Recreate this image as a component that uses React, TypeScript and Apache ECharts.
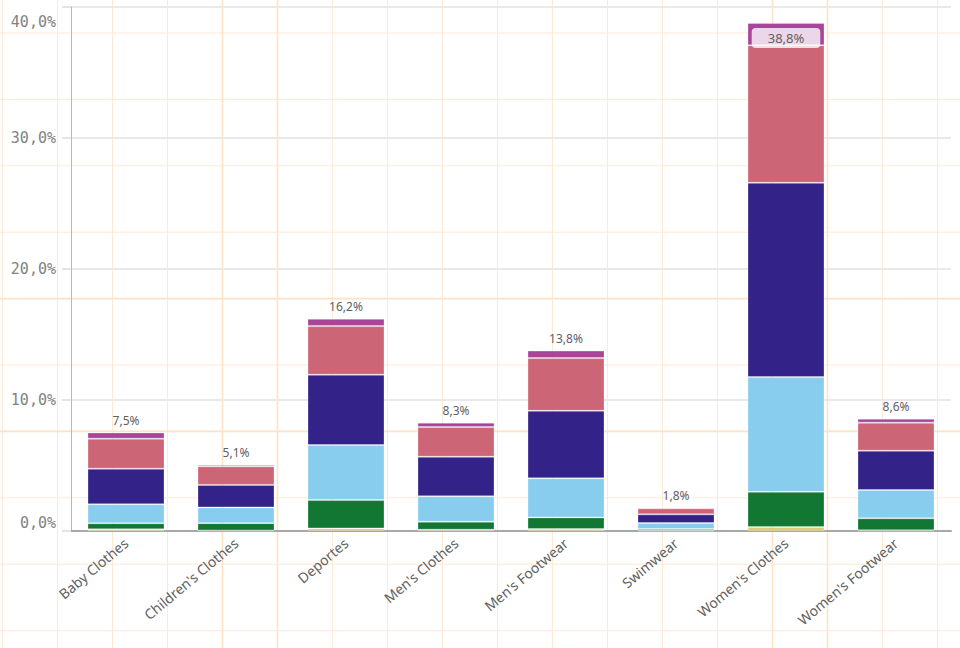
import React, { useEffect, useRef } from "react";
import * as echarts from "echarts";

const categories = [
  "Baby Clothes",
  "Children's Clothes",
  "Deportes",
  "Men's Clothes",
  "Men's Footwear",
  "Swimwear",
  "Women's Clothes",
  "Women's Footwear",
];

const sandValues = [0.13, 0.04, 0.2, 0.1, 0.15, 0.03, 0.3, 0.05];
const greenValues = [0.46, 0.56, 2.16, 0.61, 0.89, 0.12, 2.69, 0.92];
const skyValues = [1.45, 1.2, 4.2, 1.94, 2.98, 0.46, 8.76, 2.16];
const indigoValues = [2.72, 1.72, 5.37, 3.02, 5.16, 0.66, 14.83, 3.0];
const roseValues = [2.29, 1.42, 3.71, 2.27, 4.02, 0.46, 10.5, 2.14];
const magentaValues = [0.47, 0.12, 0.56, 0.33, 0.57, 0.08, 1.7, 0.3];

const yTicks = [0, 10, 20, 30, 40];

const layers = [
  { name: "Sand", data: sandValues, color: "#ddcc77" },
  { name: "Green", data: greenValues, color: "#117733" },
  { name: "Sky", data: skyValues, color: "#88ccee" },
  { name: "Indigo", data: indigoValues, color: "#332288" },
  { name: "Rose", data: roseValues, color: "#cc6677" },
  { name: "Magenta", data: magentaValues, color: "#aa4499" },
];

const fmtPct = (v: number) => v.toFixed(1).replace(".", ",") + "%";

export default function App() {
  const ref = useRef<HTMLDivElement>(null);

  useEffect(() => {
    document.body.style.margin = "0";
    if (!ref.current) return;
    const chart = echarts.init(ref.current, null, { renderer: "svg" });

    const totals = categories.map((_, i) =>
      layers.reduce((s, l) => s + l.data[i], 0)
    );
    const yMax = yTicks[yTicks.length - 1];

    // decorative background guide lines (peach overlay)
    const bg: any[] = [];
    const thickV = [222.5, 277.5, 772.5, 827.5];
    const thickH = [298.6, 431.4];
    for (let k = 0; k < 18; k++) {
      const x = 2.5 + 55 * k;
      const thick = thickV.some((t) => Math.abs(t - x) < 1);
      bg.push({
        type: "line",
        z: -10,
        silent: true,
        shape: { x1: x, y1: 0, x2: x, y2: 648 },
        style: { stroke: thick ? "#fde2c4" : "#fde9d4", lineWidth: thick ? 1.6 : 1 },
      });
    }
    for (let k = 0; k < 10; k++) {
      const y = 33 + 66.4 * k;
      const thick = thickH.some((t) => Math.abs(t - y) < 1);
      bg.push({
        type: "line",
        z: -10,
        silent: true,
        shape: { x1: 0, y1: y, x2: 960, y2: y },
        style: { stroke: thick ? "#fde2c4" : "#fde9d4", lineWidth: thick ? 1.6 : 1 },
      });
    }

    const series: any[] = layers.map((l, li) => {
      const isTop = li === layers.length - 1;
      return {
        name: l.name,
        type: "bar",
        stack: "total",
        barWidth: "70%",
        itemStyle: {
          color: l.color,
          borderColor: "rgba(255,255,255,0.28)",
          borderWidth: 1,
        },
        data: l.data.map((v, i) => {
          if (!isTop) return v;
          const inside = totals[i] > yMax * 0.9;
          return {
            value: v,
            label: inside
              ? {
                  show: true,
                  position: "insideTop",
                  distance: 5,
                  backgroundColor: "rgba(255,255,255,0.78)",
                  borderRadius: 4,
                  padding: [4, 16, 3, 16],
                  color: "#616161",
                  fontSize: 13,
                  fontFamily: "Noto Sans",
                  formatter: () => fmtPct(totals[i]),
                }
              : {
                  show: true,
                  position: "top",
                  distance: 6,
                  color: "#616161",
                  fontSize: 12,
                  fontFamily: "Noto Sans",
                  formatter: () => fmtPct(totals[i]),
                },
          };
        }),
      };
    });

    chart.setOption({
      animation: false,
      backgroundColor: "#ffffff",
      graphic: bg,
      grid: { left: 71, right: 9, top: 7, bottom: 117, containLabel: false },
      xAxis: {
        type: "category",
        data: categories,
        axisLine: { show: true, lineStyle: { color: "#a8a8a8", width: 2 } },
        axisTick: { show: false },
        axisLabel: {
          rotate: 40,
          margin: 10,
          color: "#616161",
          fontSize: 14,
          fontFamily: "Noto Sans",
          interval: 0,
        },
      },
      yAxis: {
        type: "value",
        min: yTicks[0],
        max: yMax,
        interval: 10,
        axisLine: { show: true, lineStyle: { color: "#b8b8b8", width: 1 } },
        axisTick: { show: true, length: 9, lineStyle: { color: "#e4e4e4", width: 2 } },
        splitLine: { show: true, lineStyle: { color: "#e9e9e9", width: 2 } },
        axisLabel: {
          margin: 15,
          color: "#828282",
          fontSize: 15,
          fontFamily: "DejaVu Sans Mono",
          verticalAlignMaxLabel: "top",
          verticalAlignMinLabel: "bottom",
          formatter: (v: number) =>
            v === yMax ? `{mx|${fmtPct(v)}}` : v === yTicks[0] ? `{mn|${fmtPct(v)}}` : fmtPct(v),
          rich: {
            mx: { lineHeight: 30, fontSize: 15, fontFamily: "DejaVu Sans Mono", color: "#828282" },
            mn: { lineHeight: 17, fontSize: 15, fontFamily: "DejaVu Sans Mono", color: "#828282" },
          },
        },
      },
      series,
    });

    return () => chart.dispose();
  }, []);

  return <div ref={ref} style={{ width: 960, height: 648 }} />;
}
